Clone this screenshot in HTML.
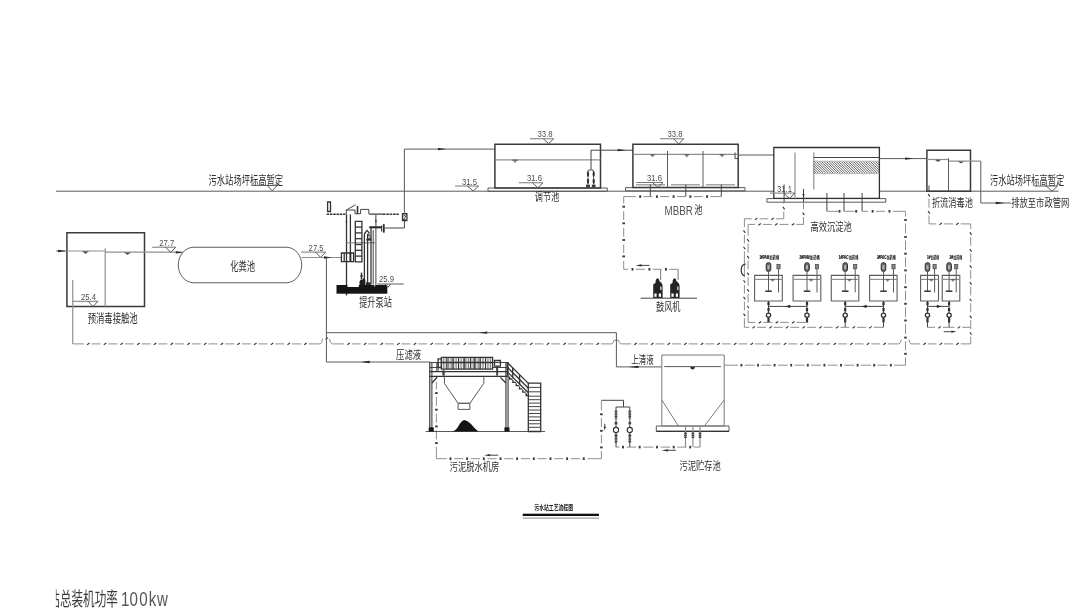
<!DOCTYPE html>
<html lang="zh"><head><meta charset="utf-8"><title>污水站工艺流程图</title>
<style>
html,body{margin:0;padding:0;background:#fff}
body{width:1080px;height:608px;overflow:hidden;font-family:"Liberation Sans","Noto Sans CJK SC",sans-serif}
svg{display:block;filter:blur(0.35px)}
svg text{font-family:"Liberation Sans","Noto Sans CJK SC",sans-serif}
.k,.m,.t,.d,.mk,.p,.q,.u{fill:none}
.u{stroke:#5c5c5c;stroke-width:1.1}
.k2{stroke:#303030;stroke-width:1.3;fill:none}
.e{stroke:#787878;stroke-width:1;fill:none}
.p{stroke:#333;stroke-width:1.3}
.q{stroke:#444;stroke-width:1}
.k{stroke:#3a3a3a;stroke-width:1.5;stroke-linejoin:miter}
.m{stroke:#5a5a5a;stroke-width:1}
.t{stroke:#8f8f8f;stroke-width:1.2}
.d{stroke:#8e8e8e;stroke-width:1}
.mk{stroke:#3a3a3a;stroke-width:1.15}
</style></head>
<body>
<svg width="1080" height="608" viewBox="0 0 1080 608" role="img" aria-label="污水站工艺流程图">
<path class="m" d="M56 191.2L773.5 191.2"/>
<path class="m" d="M879.4 191.2L1058.6 191.2"/>
<path class="k" d="M66.9 232.85L144.5 232.85L144.5 306.6L66.9 306.6Z"/>
<path class="t" d="M56 251L66.9 251"/>
<path fill="#262626" d="M66.6 251L58 249.8L58 252.2Z"/>
<path class="t" d="M66.9 251L105.2 251"/>
<path class="t" d="M105.2 252.2L182.6 252.2"/>
<path class="t" d="M105.2 248.3L105.2 306.6"/>
<path fill="#555" d="M82 251.3L89 251.3L85.5 253.9Z"/>
<path fill="#555" d="M124 252.5L131 252.5L127.5 255.1Z"/>
<path class="t" d="M72.75 280L72.75 344"/>
<path class="e" d="M72.75 301.3L98 301.3"/>
<path class="m" d="M88 301.3L93 306.4L98 301.3"/>
<text x="0" y="0" font-size="9.3" text-anchor="start" fill="#4d4d4d" transform="translate(81 300) scale(0.83 1)">25.4</text>
<text x="0" y="0" font-size="12.48" text-anchor="start" fill="#2e2e2e" transform="translate(87.7 323.25) scale(0.667 1)">预消毒接触池</text>
<path class="e" d="M152.2 247.2L175.8 247.2"/>
<path class="m" d="M165.6 247.2L170.7 252.4L175.8 247.2"/>
<text x="0" y="0" font-size="9.3" text-anchor="start" fill="#4d4d4d" transform="translate(159.2 245.9) scale(0.83 1)">27.7</text>
<path fill="#262626" d="M183.3 252.4L175.8 251.25L175.8 253.55Z"/>
<rect x="178.25" y="247.25" width="123.5" height="35.5" rx="15.5" ry="17.75" fill="none" stroke="#5c5c5c" stroke-width="1"/>
<text x="0" y="0" font-size="12.24" text-anchor="start" fill="#2e2e2e" transform="translate(230.2 271.06) scale(0.678 1)">化粪池</text>
<text x="0" y="0" font-size="12.12" text-anchor="start" fill="#2e2e2e" transform="translate(208.5 185.17) scale(0.685 1)">污水站场坪标高暂定</text>
<path class="m" d="M251.7 185.4L278 185.4"/>
<path class="m" d="M267.3 185.4L272.2 190.8L277.2 185.4"/>
<path class="e" d="M301.25 252.1L325.6 252.1"/>
<path class="m" d="M315.6 252.1L320.6 257.4L325.6 252.1"/>
<text x="0" y="0" font-size="9.3" text-anchor="start" fill="#4d4d4d" transform="translate(308.6 250.8) scale(0.83 1)">27.5</text>
<path class="t" d="M301.75 257.5L341.25 257.5"/>
<path fill="#262626" d="M331.5 257.5L324 256.35L324 258.65Z"/>
<path class="m" d="M326.4 257.5L326.4 362"/>
<path class="p" d="M341.4 253L353.6 253L353.6 261.6L341.4 261.6Z"/>
<path class="p" d="M344.2 253L344.2 261.6"/>
<path d="M350.4 252.4V262" stroke="#2a2a2a" stroke-width="1.9"/>
<path class="p" d="M346.5 214.4L346.5 295.2"/>
<path class="p" d="M350.4 214.4L350.4 253"/>
<path class="q" d="M375.9 214.4L375.9 285"/>
<path class="t" d="M346.5 242.8L375.9 242.8"/>
<path fill="#333" d="M345.6 222.2L347.4 222.2L346.5 218.6Z"/>
<path fill="#333" d="M375 222.2L376.8 222.2L375.9 218.6Z"/>
<path d="M326.6 214.3H345.6" stroke="#383838" stroke-width="1.4" stroke-dasharray="2.6 0.7"/>
<path d="M369 214.1H383" stroke="#383838" stroke-width="1.2"/>
<path d="M383 214.3H399" stroke="#383838" stroke-width="1.4" stroke-dasharray="2.6 0.7"/>
<path class="p" d="M327.6 202L330.5 202L330.5 211.5L327.6 211.5Z"/>
<path class="q" d="M346.3 214L346.3 210L355.6 204.7"/>
<path class="q" d="M346.3 210L355 210L355 213.8L360.6 213.8L360.6 209.4L368.8 209.4L368.8 213.9"/>
<path d="M357.5 206V213.8" stroke="#333" stroke-width="1.6"/>
<path class="p" d="M355.3 221.3L361.9 221.3L361.9 261.9L355.3 261.9Z"/>
<path class="p" d="M355.3 227.1L361.9 227.1"/>
<path class="p" d="M355.3 232.9L361.9 232.9"/>
<path class="p" d="M355.3 238.7L361.9 238.7"/>
<path class="p" d="M355.3 244.5L361.9 244.5"/>
<path class="p" d="M355.3 250.3L361.9 250.3"/>
<path class="p" d="M355.3 256.1L361.9 256.1"/>
<path class="q" d="M404.4 220.6L404.4 228L385 228"/>
<path d="M383.8 224.2V232.6" stroke="#2a2a2a" stroke-width="1.8"/>
<path d="M381.6 225.4V231.4" stroke="#333" stroke-width="1.1"/>
<path d="M369.2 227.3H381.6" stroke="#2a2a2a" stroke-width="2.1"/>
<path class="p" d="M371 228L371 284.5"/>
<path class="q" d="M373.2 230L373.2 284.5"/>
<path class="p" d="M364.4 233.8L364.4 284.5"/>
<path class="p" d="M367.6 233.8L367.6 284.5"/>
<path d="M364.4 234L367 230.4L369.4 233" class="p"/>
<path d="M366.4 240L368.8 232.4L371.4 240ZM367.6 238.2L368.8 234.6L370 238.2Z" fill="#2a2a2a" fill-rule="evenodd"/>
<path class="p" d="M366.4 240L371.4 240"/>
<path d="M359.5 285.6V281.6L360.6 279.8H362.4L363 278.6H364.6L365.4 280.4V285.6Z" fill="#1e1e1e"/>
<path d="M366 285.6V282.4H370.8V285.6Z" fill="#2a2a2a"/>
<path class="k" d="M361.5 272.6L361.5 279.5"/>
<path fill="#262626" d="M361.5 279.4L362.8 275.2L360.2 275.2Z"/>
<path class="p" d="M402.5 213.75L406.9 213.75L406.9 220.6L402.5 220.6Z"/>
<text x="0" y="0" font-size="6.6" text-anchor="start" fill="#222" font-weight="bold" transform="translate(402.9 219.8) scale(0.85 1)">2</text>
<path class="m" d="M404.4 213.75L404.4 149.1L494.9 149.1"/>
<path fill="#262626" d="M446.5 149.1L438 147.95L438 150.25Z"/>
<rect x="336.5" y="285" width="50.8" height="8.7" fill="#141414"/>
<rect x="347.5" y="285" width="11.3" height="2" fill="#fff"/>
<rect x="374.4" y="285" width="0.8" height="1.6" fill="#fff"/>
<path class="p" d="M346.5 293.5L346.5 295.4"/>
<path class="m" d="M377.5 284L403.75 284"/>
<path class="m" d="M385.3 284L388 287.4L390.7 284"/>
<text x="0" y="0" font-size="9.3" text-anchor="start" fill="#4d4d4d" transform="translate(379 282.2) scale(0.83 1)">25.9</text>
<text x="0" y="0" font-size="12" text-anchor="start" fill="#2e2e2e" transform="translate(359.2 307.28) scale(0.68 1)">提升泵站</text>
<path class="m" d="M488 188L607.3 188L607.3 191.3L488 191.3Z"/>
<path class="k" d="M494.9 144.25L600.5 144.25L600.5 187.9L494.9 187.9Z"/>
<path class="t" d="M494.9 159.8L600.5 159.8"/>
<path d="M512.25 160.2H517.75" stroke="#4a4a4a" stroke-width="1" fill="none"/>
<path fill="#7a7a7a" d="M513.24 160.4L516.76 160.4L515 163.2Z"/>
<path class="e" d="M530 138.75L553.75 138.75"/>
<path class="m" d="M543.25 138.75L548.5 143.6L553.75 138.75"/>
<text x="0" y="0" font-size="9.3" text-anchor="start" fill="#4d4d4d" transform="translate(537.5 137.45) scale(0.83 1)">33.8</text>
<path class="e" d="M455 186L478.75 186"/>
<path class="m" d="M467.55 186L473.15 191L478.75 186"/>
<text x="0" y="0" font-size="9.3" text-anchor="start" fill="#4d4d4d" transform="translate(462 184.7) scale(0.83 1)">31.5</text>
<path class="e" d="M518.75 182.75L543 182.75"/>
<path class="m" d="M532.5 182.75L537.75 187.8L543 182.75"/>
<text x="0" y="0" font-size="9.3" text-anchor="start" fill="#4d4d4d" transform="translate(527 181.45) scale(0.83 1)">31.6</text>
<text x="0" y="0" font-size="11.9" text-anchor="start" fill="#2e2e2e" transform="translate(534.8 201.1) scale(0.685 1)">调节池</text>
<path class="q" d="M591 169.4L591 150.2L632.9 150.2"/>
<path fill="#262626" d="M626.2 150.2L617.7 149.05L617.7 151.35Z"/>
<path class="q" d="M588 171.5Q588 169.8 590.8 169.8Q593.7 169.8 593.7 171.5"/>
<path d="M588 170.3Q590.3 174.15 588 178Q585.7 174.15 588 170.3Z" fill="#303030"/>
<path d="M588 177.6Q590.3 181.3 588 185Q585.7 181.3 588 177.6Z" fill="#303030"/>
<rect x="586.1" y="184.6" width="3.8" height="2.8" fill="#3a3a3a"/>
<path d="M593.7 170.3Q596 174.15 593.7 178Q591.4 174.15 593.7 170.3Z" fill="#303030"/>
<path d="M593.7 177.6Q596 181.3 593.7 185Q591.4 181.3 593.7 177.6Z" fill="#303030"/>
<rect x="591.8" y="184.6" width="3.8" height="2.8" fill="#3a3a3a"/>
<path class="m" d="M625.6 187.6L745 187.6L745 190.9L625.6 190.9Z"/>
<path class="k" d="M632.9 144.2L738.2 144.2L738.2 187.5L632.9 187.5Z"/>
<path class="t" d="M632.9 154.4L738.2 154.4"/>
<path class="m" d="M667.5 151L667.5 187.5"/>
<path class="m" d="M703 151L703 187.5"/>
<path d="M650.2 154.9H654.8" stroke="#4a4a4a" stroke-width="1" fill="none"/>
<path fill="#7a7a7a" d="M651.03 155.1L653.97 155.1L652.5 157.7Z"/>
<path d="M684.5 154.9H689.1" stroke="#4a4a4a" stroke-width="1" fill="none"/>
<path fill="#7a7a7a" d="M685.33 155.1L688.27 155.1L686.8 157.7Z"/>
<path d="M719.7 154.9H724.3" stroke="#4a4a4a" stroke-width="1" fill="none"/>
<path fill="#7a7a7a" d="M720.53 155.1L723.47 155.1L722 157.7Z"/>
<path class="t" d="M636 184.8L665 184.8"/>
<path class="t" d="M671 184.8L700 184.8"/>
<path class="t" d="M706 184.8L735 184.8"/>
<path class="e" d="M660 138.75L683.75 138.75"/>
<path class="m" d="M673.55 138.75L678.65 144L683.75 138.75"/>
<text x="0" y="0" font-size="9.3" text-anchor="start" fill="#4d4d4d" transform="translate(667.5 137.45) scale(0.83 1)">33.8</text>
<path class="e" d="M636.25 182.5L663 182.5"/>
<path class="m" d="M652.5 182.5L657.75 187.4L663 182.5"/>
<text x="0" y="0" font-size="9.3" text-anchor="start" fill="#4d4d4d" transform="translate(647 181.2) scale(0.83 1)">31.6</text>
<path class="q" d="M735 152.5L735 158.6L738.2 158.6"/>
<path class="m" d="M738.2 155L774 155"/>
<text x="0" y="0" font-size="12.1" text-anchor="start" fill="#555" transform="translate(664.6 215) scale(0.81 1)">MBBR</text>
<text x="0" y="0" font-size="11.78" text-anchor="start" fill="#2e2e2e" transform="translate(694.2 214.41) scale(0.705 1)">池</text>
<path class="q" d="M650.3 184.6L650.3 196.6"/>
<path class="q" d="M685.8 184.6L685.8 196.6"/>
<path class="q" d="M721.3 184.6L721.3 196.6"/>
<path class="d" d="M623.7 196.6L635.7 196.6"/>
<path class="d" d="M643.5 196.6L652.4 196.6"/>
<path class="d" d="M660.2 196.6L669.1 196.6"/>
<path class="d" d="M676.9 196.6L685.9 196.6"/>
<path class="d" d="M693.7 196.6L702.6 196.6"/>
<path class="d" d="M710.4 196.6L721.3 196.6"/>
<rect x="639.25" y="195.3" width="1.9" height="2.6" fill="#3a3a3a"/>
<rect x="655.95" y="195.3" width="1.9" height="2.6" fill="#3a3a3a"/>
<rect x="672.65" y="195.3" width="1.9" height="2.6" fill="#3a3a3a"/>
<rect x="689.45" y="195.3" width="1.9" height="2.6" fill="#3a3a3a"/>
<rect x="706.15" y="195.3" width="1.9" height="2.6" fill="#3a3a3a"/>
<path class="d" d="M623.7 196.6L623.7 203.4"/>
<path class="d" d="M623.7 211.2L623.7 220"/>
<path class="d" d="M623.7 227.8L623.7 236.7"/>
<path class="d" d="M623.7 244.5L623.7 253.1"/>
<path class="d" d="M623.7 260.9L623.7 269.3"/>
<rect x="622.4" y="205.75" width="2.6" height="1.9" fill="#3a3a3a"/>
<rect x="622.4" y="222.35" width="2.6" height="1.9" fill="#3a3a3a"/>
<rect x="622.4" y="239.05" width="2.6" height="1.9" fill="#3a3a3a"/>
<rect x="622.4" y="255.45" width="2.6" height="1.9" fill="#3a3a3a"/>
<path class="d" d="M623.7 269.3L628 269.3"/>
<path class="d" d="M635.8 269.3L644.9 269.3"/>
<path class="d" d="M652.7 269.3L661.5 269.3"/>
<path class="d" d="M669.3 269.3L678.1 269.3"/>
<rect x="631.55" y="268" width="1.9" height="2.6" fill="#3a3a3a"/>
<rect x="648.45" y="268" width="1.9" height="2.6" fill="#3a3a3a"/>
<rect x="665.05" y="268" width="1.9" height="2.6" fill="#3a3a3a"/>
<path fill="#262626" d="M635.6 265.4L641.6 266.5L641.6 264.3Z"/>
<path class="q" d="M641 265.4L649.4 265.4"/>
<path class="t" d="M660.6 269.3L660.6 280"/>
<path class="t" d="M678.1 269.3L678.1 280"/>
<path d="M653.2 298V284.5L655.6 282.8V280.8Q656.4 278 657.6 278.3Q659.2 278.5 659.4 281L661.8 283.2L662.6 285.5V298Z" fill="#242424"/>
<rect x="654.4" y="293.5" width="2.2" height="3.3" fill="#fff"/>
<rect x="658.8" y="293.5" width="2.2" height="3.3" fill="#fff"/>
<rect x="660" y="286.5" width="1.6" height="3.5" fill="#bbb"/>
<path d="M670.2 298V284.5L672.6 282.8V280.8Q673.4 278 674.6 278.3Q676.2 278.5 676.4 281L678.8 283.2L679.6 285.5V298Z" fill="#242424"/>
<rect x="671.4" y="293.5" width="2.2" height="3.3" fill="#fff"/>
<rect x="675.8" y="293.5" width="2.2" height="3.3" fill="#fff"/>
<rect x="677" y="286.5" width="1.6" height="3.5" fill="#bbb"/>
<path class="q" d="M640.6 298.2L697 298.2"/>
<text x="0" y="0" font-size="11.54" text-anchor="start" fill="#2e2e2e" transform="translate(656 310.72) scale(0.707 1)">鼓风机</text>
<path class="m" d="M766.9 198.6L885.8 198.6L885.8 202.2L766.9 202.2Z"/>
<path class="k2" d="M773.8 147.5L879.4 147.5L879.4 198.4L773.8 198.4Z"/>
<path class="t" d="M795 152.5L795 197"/>
<path class="t" d="M813.8 152.5L813.8 189.4"/>
<path class="q" d="M813.8 157.5L879.4 157.5"/>
<clipPath id="hz"><rect x="813.8" y="161.2" width="65.6" height="12.4"/></clipPath>
<path clip-path="url(#hz)" d="M801.6 161.2l12.4 12.4M804.05 161.2l12.4 12.4M806.5 161.2l12.4 12.4M808.95 161.2l12.4 12.4M811.4 161.2l12.4 12.4M813.85 161.2l12.4 12.4M816.3 161.2l12.4 12.4M818.75 161.2l12.4 12.4M821.2 161.2l12.4 12.4M823.65 161.2l12.4 12.4M826.1 161.2l12.4 12.4M828.55 161.2l12.4 12.4M831 161.2l12.4 12.4M833.45 161.2l12.4 12.4M835.9 161.2l12.4 12.4M838.35 161.2l12.4 12.4M840.8 161.2l12.4 12.4M843.25 161.2l12.4 12.4M845.7 161.2l12.4 12.4M848.15 161.2l12.4 12.4M850.6 161.2l12.4 12.4M853.05 161.2l12.4 12.4M855.5 161.2l12.4 12.4M857.95 161.2l12.4 12.4M860.4 161.2l12.4 12.4M862.85 161.2l12.4 12.4M865.3 161.2l12.4 12.4M867.75 161.2l12.4 12.4M870.2 161.2l12.4 12.4M872.65 161.2l12.4 12.4M875.1 161.2l12.4 12.4M877.55 161.2l12.4 12.4M880 161.2l12.4 12.4" stroke="#484848" stroke-width="0.85" fill="none"/>
<path d="M813.8 161.2H879.4M813.8 173.6H879.4" stroke="#a8a8a8" stroke-width="0.8" fill="none"/>
<path class="m" d="M879.4 158.6L926.8 158.6"/>
<path fill="#262626" d="M913.8 158.6L905.1 157.45L905.1 159.75Z"/>
<path class="t" d="M770 193.1L795 193.1"/>
<path class="m" d="M783.7 193.1L789.4 198.3L795 193.1"/>
<text x="0" y="0" font-size="9.3" text-anchor="start" fill="#4d4d4d" transform="translate(777 191.8) scale(0.83 1)">31.1</text>
<path class="q" d="M784.1 184.4L784.1 202"/>
<path class="q" d="M803.5 188.8L803.5 202"/>
<path fill="#262626" d="M803.5 197.6L804.6 194L802.4 194Z"/>
<text x="0" y="0" font-size="11.9" text-anchor="start" fill="#2e2e2e" transform="translate(810.4 231) scale(0.694 1)">高效沉淀池</text>
<path class="q" d="M826.9 193L826.9 211.3"/>
<path class="q" d="M844 193L844 211.3"/>
<path class="q" d="M862.1 193L862.1 211.3"/>
<path class="d" d="M826.9 211.3L838 211.3"/>
<rect x="838.55" y="210" width="1.9" height="2.6" fill="#3a3a3a"/>
<path class="d" d="M844 211.3L854.6 211.3"/>
<rect x="855.25" y="210" width="1.9" height="2.6" fill="#3a3a3a"/>
<path class="d" d="M862.1 211.3L868.1 211.3"/>
<path class="d" d="M875.9 211.3L885 211.3"/>
<path class="d" d="M892.8 211.3L905.4 211.3"/>
<rect x="871.65" y="210" width="1.9" height="2.6" fill="#3a3a3a"/>
<rect x="888.55" y="210" width="1.9" height="2.6" fill="#3a3a3a"/>
<path class="d" d="M905.5 211.3L905.5 216.4"/>
<path class="d" d="M905.5 223.6L905.5 233.3"/>
<path class="d" d="M905.5 240.5L905.5 250.1"/>
<path class="d" d="M905.5 257.3L905.5 266.8"/>
<path class="d" d="M905.5 274L905.5 283.6"/>
<path class="d" d="M905.5 290.8L905.5 300.2"/>
<path class="d" d="M905.5 307.4L905.5 316.9"/>
<path class="d" d="M905.5 324.1L905.5 334"/>
<path class="d" d="M905.5 341.2L905.5 350.2"/>
<path class="d" d="M905.5 357.4L905.5 365.2"/>
<rect x="904.2" y="219.05" width="2.6" height="1.9" fill="#3a3a3a"/>
<rect x="904.2" y="235.95" width="2.6" height="1.9" fill="#3a3a3a"/>
<rect x="904.2" y="252.75" width="2.6" height="1.9" fill="#3a3a3a"/>
<rect x="904.2" y="269.45" width="2.6" height="1.9" fill="#3a3a3a"/>
<rect x="904.2" y="286.25" width="2.6" height="1.9" fill="#3a3a3a"/>
<rect x="904.2" y="302.85" width="2.6" height="1.9" fill="#3a3a3a"/>
<rect x="904.2" y="319.55" width="2.6" height="1.9" fill="#3a3a3a"/>
<rect x="904.2" y="336.65" width="2.6" height="1.9" fill="#3a3a3a"/>
<rect x="904.2" y="352.85" width="2.6" height="1.9" fill="#3a3a3a"/>
<path class="d" d="M783.75 202.2L783.75 203.7"/>
<path class="d" d="M783.75 211.5L783.75 218.8"/>
<path class="mk" d="M782.85 206.95L784.65 209.45"/>
<path class="d" d="M744.4 218.8L751.8 218.8"/>
<path class="d" d="M759.6 218.8L768.1 218.8"/>
<path class="d" d="M775.9 218.8L783.75 218.8"/>
<path class="mk" d="M755.05 219.7L757.55 217.9"/>
<path class="mk" d="M771.35 219.7L773.85 217.9"/>
<path class="d" d="M803.5 202.2L803.5 209.3"/>
<path class="d" d="M803.5 217.1L803.5 224.4"/>
<path class="mk" d="M802.6 212.55L804.4 215.05"/>
<path class="d" d="M748.1 224.4L755.1 224.4"/>
<path class="d" d="M762.9 224.4L771.8 224.4"/>
<path class="d" d="M779.6 224.4L788.5 224.4"/>
<path class="d" d="M796.3 224.4L803.5 224.4"/>
<path class="mk" d="M758.35 225.3L760.85 223.5"/>
<path class="mk" d="M775.05 225.3L777.55 223.5"/>
<path class="mk" d="M791.75 225.3L794.25 223.5"/>
<path class="d" d="M744.4 218.8L744.4 227.1"/>
<path class="d" d="M744.4 234.9L744.4 243.5"/>
<path class="d" d="M744.4 251.3L744.4 277"/>
<path class="d" d="M744.4 284.8L744.4 293.7"/>
<path class="d" d="M744.4 301.5L744.4 310.3"/>
<path class="d" d="M744.4 318.1L744.4 327.3"/>
<path class="mk" d="M743.5 230.35L745.3 232.85"/>
<path class="mk" d="M743.5 246.75L745.3 249.25"/>
<path class="mk" d="M743.5 280.25L745.3 282.75"/>
<path class="mk" d="M743.5 296.95L745.3 299.45"/>
<path class="mk" d="M743.5 313.55L745.3 316.05"/>
<path class="d" d="M748.1 224.4L748.1 235.8"/>
<path class="d" d="M748.1 243.6L748.1 252.7"/>
<path class="d" d="M748.1 260.5L748.1 269.3"/>
<path class="d" d="M748.1 277.1L748.1 285.9"/>
<path class="d" d="M748.1 293.7L748.1 302.5"/>
<path class="d" d="M748.1 310.3L748.1 322.4"/>
<path class="mk" d="M747.2 239.05L749 241.55"/>
<path class="mk" d="M747.2 255.95L749 258.45"/>
<path class="mk" d="M747.2 272.55L749 275.05"/>
<path class="mk" d="M747.2 289.15L749 291.65"/>
<path class="mk" d="M747.2 305.75L749 308.25"/>
<path d="M744.6 276Q741 274.5 741.2 269.5Q741.4 264.6 745.6 264.2" fill="none" stroke="#3c3c3c" stroke-width="1.25"/>
<path class="k" d="M926.9 150.3L970.5 150.3L970.5 191.2L926.9 191.2Z"/>
<path class="t" d="M926.9 159.5L948.5 159.5"/>
<path class="t" d="M948.5 161.2L980.8 161.2"/>
<path class="m" d="M948.5 158.3L948.5 191.2"/>
<path fill="#555" d="M934.8 159.8L941.2 159.8L938 161.9Z"/>
<path fill="#555" d="M957.8 161.5L964.2 161.5L961 163.6Z"/>
<path class="m" d="M980.8 161.2L980.8 203L1011 203"/>
<path fill="#262626" d="M1004.5 203L995.7 201.85L995.7 204.15Z"/>
<text x="0" y="0" font-size="11.33" text-anchor="start" fill="#2e2e2e" transform="translate(1011.2 207.36) scale(0.733 1)">排放至市政管网</text>
<text x="0" y="0" font-size="11.33" text-anchor="start" fill="#2e2e2e" transform="translate(931.9 207.36) scale(0.725 1)">折流消毒池</text>
<text x="0" y="0" font-size="12" text-anchor="start" fill="#2e2e2e" transform="translate(990 185.48) scale(0.688 1)">污水站场坪标高暂定</text>
<path class="m" d="M1034.3 186L1057.6 186"/>
<path class="m" d="M1046.2 186L1052 191.2L1057.6 186"/>
<path class="q" d="M929 185.5L929 191"/>
<path class="d" d="M929 198.6L929 207.8"/>
<path class="d" d="M929 215.6L929 223.9"/>
<path class="mk" d="M928.1 194.05L929.9 196.55"/>
<path class="mk" d="M928.1 211.05L929.9 213.55"/>
<path class="d" d="M929 223.9L936.2 223.9"/>
<path class="d" d="M944 223.9L952.9 223.9"/>
<path class="d" d="M960.7 223.9L970.7 223.9"/>
<path class="mk" d="M939.45 224.8L941.95 223"/>
<path class="mk" d="M956.15 224.8L958.65 223"/>
<path class="d" d="M970.7 223.9L970.7 229.1"/>
<path class="d" d="M970.7 236.9L970.7 245.8"/>
<path class="d" d="M970.7 253.6L970.7 262.2"/>
<path class="d" d="M970.7 270L970.7 278.8"/>
<path class="d" d="M970.7 286.6L970.7 295.5"/>
<path class="d" d="M970.7 303.3L970.7 312.3"/>
<path class="d" d="M970.7 320.1L970.7 329"/>
<path class="d" d="M970.7 336.8L970.7 343.8"/>
<path class="mk" d="M969.8 232.35L971.6 234.85"/>
<path class="mk" d="M969.8 249.05L971.6 251.55"/>
<path class="mk" d="M969.8 265.45L971.6 267.95"/>
<path class="mk" d="M969.8 282.05L971.6 284.55"/>
<path class="mk" d="M969.8 298.75L971.6 301.25"/>
<path class="mk" d="M969.8 315.55L971.6 318.05"/>
<path class="mk" d="M969.8 332.25L971.6 334.75"/>
<path class="u" d="M754.6 275.4L782.3 275.4L782.3 301L754.6 301Z"/>
<path class="t" d="M754.6 279.4L782.3 279.4"/>
<path d="M770.8 279.8H774.4" stroke="#4a4a4a" stroke-width="1" fill="none"/>
<path fill="#7a7a7a" d="M771.45 280L773.75 280L772.6 281.9Z"/>
<rect x="766.2" y="262.7" width="4.6" height="8.7" rx="2" ry="2.2" fill="#6a6a6a" stroke="#2e2e2e" stroke-width="1"/>
<rect x="767.5" y="265.2" width="2" height="4" fill="#b5b5b5"/>
<path class="m" d="M768.5 271.4L768.5 291.2"/>
<path d="M765.2 291.2H771.8" stroke="#333" stroke-width="1.5"/>
<rect x="776.9" y="264.4" width="3.2" height="4.4" fill="#888" stroke="#444" stroke-width="0.7"/>
<path class="m" d="M778.5 268.8L778.5 292.4"/>
<path class="q" d="M768.5 301L768.5 322.4"/>
<path d="M768.5 302V305.2M768.5 308V311.3M768.5 318V322.4" stroke="#303030" stroke-width="2.2"/>
<circle cx="768.5" cy="315.3" r="2.1" fill="#fff" stroke="#303030" stroke-width="1.3"/>
<text x="759.4" y="258.7" font-size="4.5" font-weight="bold" fill="#161616" stroke="#161616" stroke-width="0.22" textLength="9.86" lengthAdjust="spacingAndGlyphs">1#PAM</text>
<text x="0" y="0" font-size="4.39" font-weight="bold" text-anchor="start" fill="#161616" transform="translate(769.56 258.76) scale(0.727 1)">加药桶</text>
<path class="u" d="M793.1 275.4L820.8 275.4L820.8 301L793.1 301Z"/>
<path class="t" d="M793.1 279.4L820.8 279.4"/>
<path d="M809.3 279.8H812.9" stroke="#4a4a4a" stroke-width="1" fill="none"/>
<path fill="#7a7a7a" d="M809.95 280L812.25 280L811.1 281.9Z"/>
<rect x="804.7" y="262.7" width="4.6" height="8.7" rx="2" ry="2.2" fill="#6a6a6a" stroke="#2e2e2e" stroke-width="1"/>
<rect x="806" y="265.2" width="2" height="4" fill="#b5b5b5"/>
<path class="m" d="M807 271.4L807 291.2"/>
<path d="M803.7 291.2H810.3" stroke="#333" stroke-width="1.5"/>
<rect x="815.4" y="264.4" width="3.2" height="4.4" fill="#888" stroke="#444" stroke-width="0.7"/>
<path class="m" d="M817 268.8L817 292.4"/>
<path class="q" d="M807 301L807 322.4"/>
<path d="M807 302V305.2M807 308V311.3M807 318V322.4" stroke="#303030" stroke-width="2.2"/>
<circle cx="807" cy="315.3" r="2.1" fill="#fff" stroke="#303030" stroke-width="1.3"/>
<text x="799.4" y="258.7" font-size="4.5" font-weight="bold" fill="#161616" stroke="#161616" stroke-width="0.22" textLength="10.16" lengthAdjust="spacingAndGlyphs">2#PAM</text>
<text x="0" y="0" font-size="4.39" font-weight="bold" text-anchor="start" fill="#161616" transform="translate(809.86 258.76) scale(0.749 1)">加药桶</text>
<path class="u" d="M831.3 275.4L858.8 275.4L858.8 301L831.3 301Z"/>
<path class="t" d="M831.3 279.4L858.8 279.4"/>
<path d="M847.5 279.8H851.1" stroke="#4a4a4a" stroke-width="1" fill="none"/>
<path fill="#7a7a7a" d="M848.15 280L850.45 280L849.3 281.9Z"/>
<rect x="842.9" y="262.7" width="4.6" height="8.7" rx="2" ry="2.2" fill="#6a6a6a" stroke="#2e2e2e" stroke-width="1"/>
<rect x="844.2" y="265.2" width="2" height="4" fill="#b5b5b5"/>
<path class="m" d="M845.2 271.4L845.2 291.2"/>
<path d="M841.9 291.2H848.5" stroke="#333" stroke-width="1.5"/>
<rect x="853.6" y="264.4" width="3.2" height="4.4" fill="#888" stroke="#444" stroke-width="0.7"/>
<path class="m" d="M855.2 268.8L855.2 292.4"/>
<path class="q" d="M845.2 301L845.2 322.4"/>
<path d="M845.2 302V305.2M845.2 308V311.3M845.2 318V322.4" stroke="#303030" stroke-width="2.2"/>
<circle cx="845.2" cy="315.3" r="2.1" fill="#fff" stroke="#303030" stroke-width="1.3"/>
<text x="838.8" y="258.7" font-size="4.5" font-weight="bold" fill="#161616" stroke="#161616" stroke-width="0.22" textLength="9.81" lengthAdjust="spacingAndGlyphs">1#PAC</text>
<text x="0" y="0" font-size="4.39" font-weight="bold" text-anchor="start" fill="#161616" transform="translate(848.91 258.76) scale(0.721 1)">加药桶</text>
<path class="u" d="M869.6 275.4L897.1 275.4L897.1 301L869.6 301Z"/>
<path class="t" d="M869.6 279.4L897.1 279.4"/>
<path d="M885.8 279.8H889.4" stroke="#4a4a4a" stroke-width="1" fill="none"/>
<path fill="#7a7a7a" d="M886.45 280L888.75 280L887.6 281.9Z"/>
<rect x="881.2" y="262.7" width="4.6" height="8.7" rx="2" ry="2.2" fill="#6a6a6a" stroke="#2e2e2e" stroke-width="1"/>
<rect x="882.5" y="265.2" width="2" height="4" fill="#b5b5b5"/>
<path class="m" d="M883.5 271.4L883.5 291.2"/>
<path d="M880.2 291.2H886.8" stroke="#333" stroke-width="1.5"/>
<rect x="891.9" y="264.4" width="3.2" height="4.4" fill="#888" stroke="#444" stroke-width="0.7"/>
<path class="m" d="M893.5 268.8L893.5 292.4"/>
<path class="q" d="M883.5 301L883.5 322.4"/>
<path d="M883.5 302V305.2M883.5 308V311.3M883.5 318V322.4" stroke="#303030" stroke-width="2.2"/>
<circle cx="883.5" cy="315.3" r="2.1" fill="#fff" stroke="#303030" stroke-width="1.3"/>
<text x="876.9" y="258.7" font-size="4.5" font-weight="bold" fill="#161616" stroke="#161616" stroke-width="0.22" textLength="9.55" lengthAdjust="spacingAndGlyphs">2#PAC</text>
<text x="0" y="0" font-size="4.39" font-weight="bold" text-anchor="start" fill="#161616" transform="translate(886.75 258.76) scale(0.699 1)">加药桶</text>
<path class="u" d="M920.6 275.4L938.5 275.4L938.5 301L920.6 301Z"/>
<path class="t" d="M920.6 279.4L938.5 279.4"/>
<path d="M929.5 279.8H933.1" stroke="#4a4a4a" stroke-width="1" fill="none"/>
<path fill="#7a7a7a" d="M930.15 280L932.45 280L931.3 281.9Z"/>
<rect x="925.2" y="262.7" width="4.6" height="8.7" rx="2" ry="2.2" fill="#6a6a6a" stroke="#2e2e2e" stroke-width="1"/>
<rect x="926.5" y="265.2" width="2" height="4" fill="#b5b5b5"/>
<path class="m" d="M927.5 271.4L927.5 291.2"/>
<path d="M924.2 291.2H930.8" stroke="#333" stroke-width="1.5"/>
<rect x="933" y="264.4" width="3.2" height="4.4" fill="#888" stroke="#444" stroke-width="0.7"/>
<path class="m" d="M934.6 268.8L934.6 292.4"/>
<path class="q" d="M927.5 301L927.5 322.4"/>
<path d="M927.5 302V305.2M927.5 308V311.3M927.5 318V322.4" stroke="#303030" stroke-width="2.2"/>
<circle cx="927.5" cy="315.3" r="2.1" fill="#fff" stroke="#303030" stroke-width="1.3"/>
<text x="926.9" y="258.7" font-size="4.5" font-weight="bold" fill="#161616" stroke="#161616" stroke-width="0.22" textLength="3.48" lengthAdjust="spacingAndGlyphs">1#</text>
<text x="0" y="0" font-size="4.39" font-weight="bold" text-anchor="start" fill="#161616" transform="translate(930.68 258.76) scale(0.639 1)">加药桶</text>
<path class="u" d="M942.2 275.4L959.8 275.4L959.8 301L942.2 301Z"/>
<path class="t" d="M942.2 279.4L959.8 279.4"/>
<path d="M951.1 279.8H954.7" stroke="#4a4a4a" stroke-width="1" fill="none"/>
<path fill="#7a7a7a" d="M951.75 280L954.05 280L952.9 281.9Z"/>
<rect x="946.8" y="262.7" width="4.6" height="8.7" rx="2" ry="2.2" fill="#6a6a6a" stroke="#2e2e2e" stroke-width="1"/>
<rect x="948.1" y="265.2" width="2" height="4" fill="#b5b5b5"/>
<path class="m" d="M949.1 271.4L949.1 291.2"/>
<path d="M945.8 291.2H952.4" stroke="#333" stroke-width="1.5"/>
<rect x="954.6" y="264.4" width="3.2" height="4.4" fill="#888" stroke="#444" stroke-width="0.7"/>
<path class="m" d="M956.2 268.8L956.2 292.4"/>
<path class="q" d="M949.1 301L949.1 322.4"/>
<path d="M949.1 302V305.2M949.1 308V311.3M949.1 318V322.4" stroke="#303030" stroke-width="2.2"/>
<circle cx="949.1" cy="315.3" r="2.1" fill="#fff" stroke="#303030" stroke-width="1.3"/>
<text x="949.4" y="258.7" font-size="4.5" font-weight="bold" fill="#161616" stroke="#161616" stroke-width="0.22" textLength="3.66" lengthAdjust="spacingAndGlyphs">2#</text>
<text x="0" y="0" font-size="4.39" font-weight="bold" text-anchor="start" fill="#161616" transform="translate(953.36 258.76) scale(0.672 1)">加药桶</text>
<path class="q" d="M768.5 306.4L807 306.4"/>
<path fill="#262626" d="M785.4 306.4L790.2 308L790.2 304.8Z"/>
<path class="q" d="M845.2 306.4L883.5 306.4"/>
<path fill="#262626" d="M861.8 306.4L866.6 308L866.6 304.8Z"/>
<path class="q" d="M927.5 306.4L949.1 306.4"/>
<path fill="#262626" d="M941.6 306.4L936.8 304.8L936.8 308Z"/>
<path class="d" d="M748.1 322.4L755.5 322.4"/>
<path class="d" d="M763.3 322.4L772.4 322.4"/>
<path class="d" d="M780.2 322.4L788.7 322.4"/>
<path class="d" d="M796.5 322.4L807 322.4"/>
<path class="mk" d="M758.75 323.3L761.25 321.5"/>
<path class="mk" d="M775.65 323.3L778.15 321.5"/>
<path class="mk" d="M791.95 323.3L794.45 321.5"/>
<path class="q" d="M845.2 322.4L845.2 327.3"/>
<path class="q" d="M883.5 322.4L883.5 327.3"/>
<path class="q" d="M927.5 322.4L927.5 327.3"/>
<path class="q" d="M949.1 322.4L949.1 327.3"/>
<path class="d" d="M744.4 327.3L749.3 327.3"/>
<path class="d" d="M757.1 327.3L766 327.3"/>
<path class="d" d="M773.8 327.3L782.7 327.3"/>
<path class="d" d="M790.5 327.3L799.3 327.3"/>
<path class="d" d="M807.1 327.3L816 327.3"/>
<path class="d" d="M823.8 327.3L832.7 327.3"/>
<path class="d" d="M840.5 327.3L849.3 327.3"/>
<path class="d" d="M857.1 327.3L866 327.3"/>
<path class="d" d="M873.8 327.3L883.5 327.3"/>
<path class="mk" d="M752.55 328.2L755.05 326.4"/>
<path class="mk" d="M769.25 328.2L771.75 326.4"/>
<path class="mk" d="M785.95 328.2L788.45 326.4"/>
<path class="mk" d="M802.55 328.2L805.05 326.4"/>
<path class="mk" d="M819.25 328.2L821.75 326.4"/>
<path class="mk" d="M835.95 328.2L838.45 326.4"/>
<path class="mk" d="M852.55 328.2L855.05 326.4"/>
<path class="mk" d="M869.25 328.2L871.75 326.4"/>
<path class="d" d="M927.5 327.3L935.1 327.3"/>
<path class="d" d="M942.9 327.3L954.5 327.3"/>
<path class="d" d="M962.3 327.3L970.7 327.3"/>
<path class="mk" d="M938.35 328.2L940.85 326.4"/>
<path class="mk" d="M957.75 328.2L960.25 326.4"/>
<path fill="#262626" d="M956.3 331.7L951.3 330.6L951.3 332.8Z"/>
<path class="q" d="M943.8 331.7L951.5 331.7"/>
<path class="d" d="M72.75 343.9L83.8 343.9"/>
<path class="d" d="M91.6 343.9L100.5 343.9"/>
<path class="d" d="M108.3 343.9L117.2 343.9"/>
<path class="d" d="M125 343.9L133.9 343.9"/>
<path class="d" d="M141.7 343.9L150.6 343.9"/>
<path class="d" d="M158.4 343.9L167.3 343.9"/>
<path class="d" d="M175.1 343.9L184 343.9"/>
<path class="d" d="M191.8 343.9L200.7 343.9"/>
<path class="d" d="M208.5 343.9L217.4 343.9"/>
<path class="d" d="M225.2 343.9L234.1 343.9"/>
<path class="d" d="M241.9 343.9L250.8 343.9"/>
<path class="d" d="M258.6 343.9L267.5 343.9"/>
<path class="d" d="M275.3 343.9L284.2 343.9"/>
<path class="d" d="M292 343.9L300.9 343.9"/>
<path class="d" d="M308.7 343.9L320.2 343.9"/>
<path class="mk" d="M87.05 344.8L89.55 343"/>
<path class="mk" d="M103.75 344.8L106.25 343"/>
<path class="mk" d="M120.45 344.8L122.95 343"/>
<path class="mk" d="M137.15 344.8L139.65 343"/>
<path class="mk" d="M153.85 344.8L156.35 343"/>
<path class="mk" d="M170.55 344.8L173.05 343"/>
<path class="mk" d="M187.25 344.8L189.75 343"/>
<path class="mk" d="M203.95 344.8L206.45 343"/>
<path class="mk" d="M220.65 344.8L223.15 343"/>
<path class="mk" d="M237.35 344.8L239.85 343"/>
<path class="mk" d="M254.05 344.8L256.55 343"/>
<path class="mk" d="M270.75 344.8L273.25 343"/>
<path class="mk" d="M287.45 344.8L289.95 343"/>
<path class="mk" d="M304.15 344.8L306.65 343"/>
<path class="d" d="M320.2 343.9Q321.6 343.9 322.6 338.6M329.3 338.8Q330.4 343.9 332.6 343.9"/>
<path class="mk" d="M325.45 339.4L327.95 337.6"/>
<path class="d" d="M332.6 343.9L344 343.9"/>
<path class="d" d="M351.8 343.9L360.62 343.9"/>
<path class="d" d="M368.42 343.9L377.24 343.9"/>
<path class="d" d="M385.04 343.9L393.86 343.9"/>
<path class="d" d="M401.66 343.9L410.48 343.9"/>
<path class="d" d="M418.28 343.9L427.1 343.9"/>
<path class="d" d="M434.9 343.9L443.72 343.9"/>
<path class="d" d="M451.52 343.9L460.34 343.9"/>
<path class="d" d="M468.14 343.9L476.96 343.9"/>
<path class="d" d="M484.76 343.9L493.58 343.9"/>
<path class="d" d="M501.38 343.9L510.2 343.9"/>
<path class="d" d="M518 343.9L526.82 343.9"/>
<path class="d" d="M534.62 343.9L543.44 343.9"/>
<path class="d" d="M551.24 343.9L560.06 343.9"/>
<path class="d" d="M567.86 343.9L576.68 343.9"/>
<path class="d" d="M584.48 343.9L593.3 343.9"/>
<path class="d" d="M601.1 343.9L611.9 343.9"/>
<path class="mk" d="M347.25 344.8L349.75 343"/>
<path class="mk" d="M363.87 344.8L366.37 343"/>
<path class="mk" d="M380.49 344.8L382.99 343"/>
<path class="mk" d="M397.11 344.8L399.61 343"/>
<path class="mk" d="M413.73 344.8L416.23 343"/>
<path class="mk" d="M430.35 344.8L432.85 343"/>
<path class="mk" d="M446.97 344.8L449.47 343"/>
<path class="mk" d="M463.59 344.8L466.09 343"/>
<path class="mk" d="M480.21 344.8L482.71 343"/>
<path class="mk" d="M496.83 344.8L499.33 343"/>
<path class="mk" d="M513.45 344.8L515.95 343"/>
<path class="mk" d="M530.07 344.8L532.57 343"/>
<path class="mk" d="M546.69 344.8L549.19 343"/>
<path class="mk" d="M563.31 344.8L565.81 343"/>
<path class="mk" d="M579.93 344.8L582.43 343"/>
<path class="mk" d="M596.55 344.8L599.05 343"/>
<path class="d" d="M611.9 343.9Q613.1 343.9 613.9 340.3H618.5Q619.4 343.9 620.9 343.9"/>
<path class="d" d="M620.9 343.9L631.1 343.9"/>
<path class="d" d="M638.9 343.9L647.7 343.9"/>
<path class="d" d="M655.5 343.9L664.3 343.9"/>
<path class="d" d="M672.1 343.9L680.9 343.9"/>
<path class="d" d="M688.7 343.9L697.5 343.9"/>
<path class="d" d="M705.3 343.9L714.1 343.9"/>
<path class="d" d="M721.9 343.9L730.7 343.9"/>
<path class="d" d="M738.5 343.9L747.3 343.9"/>
<path class="d" d="M755.1 343.9L763.9 343.9"/>
<path class="d" d="M771.7 343.9L780.5 343.9"/>
<path class="d" d="M788.3 343.9L797.1 343.9"/>
<path class="d" d="M804.9 343.9L813.7 343.9"/>
<path class="d" d="M821.5 343.9L830.3 343.9"/>
<path class="d" d="M838.1 343.9L846.9 343.9"/>
<path class="d" d="M854.7 343.9L863.5 343.9"/>
<path class="d" d="M871.3 343.9L880.1 343.9"/>
<path class="d" d="M887.9 343.9L899 343.9"/>
<path class="mk" d="M634.35 344.8L636.85 343"/>
<path class="mk" d="M650.95 344.8L653.45 343"/>
<path class="mk" d="M667.55 344.8L670.05 343"/>
<path class="mk" d="M684.15 344.8L686.65 343"/>
<path class="mk" d="M700.75 344.8L703.25 343"/>
<path class="mk" d="M717.35 344.8L719.85 343"/>
<path class="mk" d="M733.95 344.8L736.45 343"/>
<path class="mk" d="M750.55 344.8L753.05 343"/>
<path class="mk" d="M767.15 344.8L769.65 343"/>
<path class="mk" d="M783.75 344.8L786.25 343"/>
<path class="mk" d="M800.35 344.8L802.85 343"/>
<path class="mk" d="M816.95 344.8L819.45 343"/>
<path class="mk" d="M833.55 344.8L836.05 343"/>
<path class="mk" d="M850.15 344.8L852.65 343"/>
<path class="mk" d="M866.75 344.8L869.25 343"/>
<path class="mk" d="M883.35 344.8L885.85 343"/>
<path class="d" d="M899 343.9Q900.4 343.9 901.5 339.6M908.9 339.6Q909.8 343.9 910.9 343.9"/>
<path class="d" d="M910.9 343.9L920.1 343.9"/>
<path class="d" d="M927.9 343.9L936.4 343.9"/>
<path class="d" d="M944.2 343.9L953 343.9"/>
<path class="d" d="M960.8 343.9L970.7 343.9"/>
<path class="mk" d="M923.35 344.8L925.85 343"/>
<path class="mk" d="M939.65 344.8L942.15 343"/>
<path class="mk" d="M956.25 344.8L958.75 343"/>
<path class="m" d="M326.4 332.7L616.4 332.7L616.4 366.9L661.8 366.9"/>
<path fill="#262626" d="M478.6 332.7L487.2 333.85L487.2 331.55Z"/>
<path fill="#262626" d="M628.7 366.9L638.5 368.1L638.5 365.7Z"/>
<text x="0" y="0" font-size="11.54" text-anchor="start" fill="#2e2e2e" transform="translate(631.2 363.92) scale(0.649 1)">上清液</text>
<path class="m" d="M326.4 362L430 362"/>
<path fill="#262626" d="M361 362L369.6 363.15L369.6 360.85Z"/>
<text x="0" y="0" font-size="11.9" text-anchor="start" fill="#2e2e2e" transform="translate(396 359.2) scale(0.706 1)">压滤液</text>
<path class="d" d="M724.2 365.2L738 365.2"/>
<path class="d" d="M744.8 365.2L754.6 365.2"/>
<path class="d" d="M761.4 365.2L771.2 365.2"/>
<path class="d" d="M778 365.2L787.8 365.2"/>
<path class="d" d="M794.6 365.2L804.4 365.2"/>
<path class="d" d="M811.2 365.2L821 365.2"/>
<path class="d" d="M827.8 365.2L837.6 365.2"/>
<path class="d" d="M844.4 365.2L854.2 365.2"/>
<path class="d" d="M861 365.2L870.8 365.2"/>
<path class="d" d="M877.6 365.2L887.4 365.2"/>
<path class="d" d="M894.2 365.2L905.5 365.2"/>
<rect x="740.45" y="363.9" width="1.9" height="2.6" fill="#3a3a3a"/>
<rect x="757.05" y="363.9" width="1.9" height="2.6" fill="#3a3a3a"/>
<rect x="773.65" y="363.9" width="1.9" height="2.6" fill="#3a3a3a"/>
<rect x="790.25" y="363.9" width="1.9" height="2.6" fill="#3a3a3a"/>
<rect x="806.85" y="363.9" width="1.9" height="2.6" fill="#3a3a3a"/>
<rect x="823.45" y="363.9" width="1.9" height="2.6" fill="#3a3a3a"/>
<rect x="840.05" y="363.9" width="1.9" height="2.6" fill="#3a3a3a"/>
<rect x="856.65" y="363.9" width="1.9" height="2.6" fill="#3a3a3a"/>
<rect x="873.25" y="363.9" width="1.9" height="2.6" fill="#3a3a3a"/>
<rect x="889.85" y="363.9" width="1.9" height="2.6" fill="#3a3a3a"/>
<path class="m" d="M656.3 426L729 426L729 431.3L656.3 431.3Z"/>
<path class="p" d="M656.3 431.3L729 431.3"/>
<path class="e" d="M661.8 355L724.2 355L724.2 426L661.8 426Z"/>
<path class="m" d="M664.2 366.6L721 366.6"/>
<path d="M690.2 366.9H695Q694.6 369.6 692.6 369.6Q690.6 369.6 690.2 366.9Z" fill="#2e2e2e"/>
<path class="e" d="M661.8 400L678.4 426"/>
<path class="e" d="M724.2 400L704.4 426"/>
<path class="t" d="M685.5 426L685.5 447.1"/>
<path d="M685.5 432.6V438.1" stroke="#3a3a3a" stroke-width="2.6" stroke-dasharray="1.5 0.4"/>
<path class="t" d="M692.9 426L692.9 447.1"/>
<path d="M692.9 432.6V438.1" stroke="#3a3a3a" stroke-width="2.6" stroke-dasharray="1.5 0.4"/>
<path class="t" d="M700 426L700 447.1"/>
<path d="M700 432.6V438.1" stroke="#3a3a3a" stroke-width="2.6" stroke-dasharray="1.5 0.4"/>
<path class="d" d="M616 447.1L619.4 447.1"/>
<path class="d" d="M626.6 447.1L636.1 447.1"/>
<path class="d" d="M643.3 447.1L653.4 447.1"/>
<path class="d" d="M660.6 447.1L670.1 447.1"/>
<path class="d" d="M677.3 447.1L686.6 447.1"/>
<path class="d" d="M693.8 447.1L700 447.1"/>
<rect x="622.05" y="445.8" width="1.9" height="2.6" fill="#3a3a3a"/>
<rect x="638.75" y="445.8" width="1.9" height="2.6" fill="#3a3a3a"/>
<rect x="656.05" y="445.8" width="1.9" height="2.6" fill="#3a3a3a"/>
<rect x="672.75" y="445.8" width="1.9" height="2.6" fill="#3a3a3a"/>
<rect x="689.25" y="445.8" width="1.9" height="2.6" fill="#3a3a3a"/>
<path fill="#262626" d="M661.6 450.3L668.1 451.4L668.1 449.2Z"/>
<path class="q" d="M667 450.3L676 450.3"/>
<text x="0" y="0" font-size="11.33" text-anchor="start" fill="#2e2e2e" transform="translate(679.4 469.96) scale(0.733 1)">污泥贮存池</text>
<path class="q" d="M601.4 400.3L623.5 400.3L623.5 407"/>
<path class="q" d="M616 447.1L616 407L629.8 407L629.8 447.1"/>
<path d="M616 410.5V418.4M616 437.4V442.9" stroke="#444" stroke-width="2.7" stroke-dasharray="1.3 0.45"/>
<circle cx="616" cy="422.9" r="1.5" fill="#444"/><circle cx="616" cy="435.6" r="1.5" fill="#444"/>
<circle cx="616" cy="430" r="2.6" fill="#fff" stroke="#333" stroke-width="1.1"/>
<path d="M629.8 410.5V418.4M629.8 437.4V442.9" stroke="#444" stroke-width="2.7" stroke-dasharray="1.3 0.45"/>
<circle cx="629.8" cy="422.9" r="1.5" fill="#444"/><circle cx="629.8" cy="435.6" r="1.5" fill="#444"/>
<circle cx="629.8" cy="430" r="2.6" fill="#fff" stroke="#333" stroke-width="1.1"/>
<path class="d" d="M601.4 400.3L601.4 410.5"/>
<path class="d" d="M601.4 418.1L601.4 427"/>
<path class="d" d="M601.4 434.6L601.4 443.6"/>
<path class="d" d="M601.4 451.2L601.4 458.7"/>
<rect x="600.1" y="413.35" width="2.6" height="1.9" fill="#3a3a3a"/>
<rect x="600.1" y="429.85" width="2.6" height="1.9" fill="#3a3a3a"/>
<rect x="600.1" y="446.45" width="2.6" height="1.9" fill="#3a3a3a"/>
<path fill="#262626" d="M604.8 430.4L605.9 426.4L603.7 426.4Z"/>
<path class="q" d="M604.8 423.8L604.8 427"/>
<path class="d" d="M436.4 458.7L446.7 458.7"/>
<path class="d" d="M454.3 458.7L463.3 458.7"/>
<path class="d" d="M470.9 458.7L480 458.7"/>
<path class="d" d="M487.6 458.7L496.7 458.7"/>
<path class="d" d="M504.3 458.7L513.3 458.7"/>
<path class="d" d="M520.9 458.7L530 458.7"/>
<path class="d" d="M537.6 458.7L546.7 458.7"/>
<path class="d" d="M554.3 458.7L563.3 458.7"/>
<path class="d" d="M570.9 458.7L580 458.7"/>
<path class="d" d="M587.6 458.7L601.4 458.7"/>
<rect x="449.55" y="457.4" width="1.9" height="2.6" fill="#3a3a3a"/>
<rect x="466.15" y="457.4" width="1.9" height="2.6" fill="#3a3a3a"/>
<rect x="482.85" y="457.4" width="1.9" height="2.6" fill="#3a3a3a"/>
<rect x="499.55" y="457.4" width="1.9" height="2.6" fill="#3a3a3a"/>
<rect x="516.15" y="457.4" width="1.9" height="2.6" fill="#3a3a3a"/>
<rect x="532.85" y="457.4" width="1.9" height="2.6" fill="#3a3a3a"/>
<rect x="549.55" y="457.4" width="1.9" height="2.6" fill="#3a3a3a"/>
<rect x="566.15" y="457.4" width="1.9" height="2.6" fill="#3a3a3a"/>
<rect x="582.85" y="457.4" width="1.9" height="2.6" fill="#3a3a3a"/>
<path class="d" d="M436.4 382L436.4 389.3"/>
<path class="d" d="M436.4 396.9L436.4 405.9"/>
<path class="d" d="M436.4 413.5L436.4 422.6"/>
<path class="d" d="M436.4 430.2L436.4 439.3"/>
<path class="d" d="M436.4 446.9L436.4 458.7"/>
<rect x="435.1" y="392.15" width="2.6" height="1.9" fill="#3a3a3a"/>
<rect x="435.1" y="408.75" width="2.6" height="1.9" fill="#3a3a3a"/>
<rect x="435.1" y="425.45" width="2.6" height="1.9" fill="#3a3a3a"/>
<rect x="435.1" y="442.15" width="2.6" height="1.9" fill="#3a3a3a"/>
<path fill="#262626" d="M484.2 455.2L490.2 456.3L490.2 454.1Z"/>
<path class="q" d="M489 455.2L498.2 455.2"/>
<path class="m" d="M425.6 431.5L545 431.5"/>
<rect x="429.6" y="362.5" width="2.4" height="65.5" fill="#b8b8b8" stroke="#444" stroke-width="0.9"/>
<rect x="505.8" y="362.5" width="2.4" height="65.5" fill="#b8b8b8" stroke="#444" stroke-width="0.9"/>
<rect x="428.7" y="427.4" width="5.1" height="4.2" fill="#161616"/>
<rect x="504.4" y="427.4" width="5.1" height="4.2" fill="#161616"/>
<path class="p" d="M432 383L437.2 377"/>
<path class="p" d="M505.8 383L500.4 377.4"/>
<path class="q" d="M429.6 362.5L441.4 362.5"/>
<path class="q" d="M492.6 362.5L507.2 362.5"/>
<path class="q" d="M429.6 367.5L441.4 367.5"/>
<path class="q" d="M492.6 367.5L507.2 367.5"/>
<path class="p" d="M429.6 371.6L508.2 371.6"/>
<path class="p" d="M429.6 376.3L508.2 376.3"/>
<path class="q" d="M436.8 362.5L436.8 371.6"/>
<path class="q" d="M438.1 362.5L438.1 371.6"/>
<path class="p" d="M507.3 362.5L507.3 376.3"/>
<rect x="442.4" y="370.4" width="2.3" height="5.2" fill="#3a3a3a"/>
<rect x="496.2" y="366.1" width="1.9" height="9.5" fill="#3a3a3a"/>
<rect x="441.4" y="357.3" width="51.2" height="11.8" fill="#d6d6d6"/>
<path d="M442.6 358V368.6M445.05 358V368.6M447.5 358V368.6M449.95 358V368.6M452.4 358V368.6M454.85 358V368.6M457.3 358V368.6M459.75 358V368.6M462.2 358V368.6M464.65 358V368.6M467.1 358V368.6M469.55 358V368.6M472 358V368.6M474.45 358V368.6M476.9 358V368.6M479.35 358V368.6M481.8 358V368.6M484.25 358V368.6M486.7 358V368.6M489.15 358V368.6M491.6 358V368.6" stroke="#fff" stroke-width="0.9" fill="none"/>
<path d="M443.85 357.3V369.1M446.3 357.3V369.1M448.75 357.3V369.1M451.2 357.3V369.1M453.65 357.3V369.1M456.1 357.3V369.1M458.55 357.3V369.1M461 357.3V369.1M463.45 357.3V369.1M465.9 357.3V369.1M468.35 357.3V369.1M470.8 357.3V369.1M473.25 357.3V369.1M475.7 357.3V369.1M478.15 357.3V369.1M480.6 357.3V369.1M483.05 357.3V369.1M485.5 357.3V369.1M487.95 357.3V369.1M490.4 357.3V369.1" stroke="#555" stroke-width="0.7" fill="none"/>
<path d="M447 357.3V369.1M452.9 357.3V369.1M458.5 357.3V369.1M464.3 357.3V369.1M470.4 357.3V369.1M474.7 357.3V369.1M480 357.3V369.1M485.6 357.3V369.1" stroke="#2e2e2e" stroke-width="1" fill="none"/>
<path class="p" d="M441.4 357.3L492.6 357.3L492.6 369.1L441.4 369.1Z"/>
<path class="p" d="M441.4 362.5L492.6 362.5"/>
<path class="p" d="M438.1 358.9L441.4 358.9L441.4 367.5L438.1 367.5Z"/>
<path class="p" d="M494.5 360.5L500.4 360.5L500.4 366.1L494.5 366.1Z"/>
<path class="m" d="M444.4 376.3L444.4 383.4L458.1 403.3L469.9 403.3L483.8 383.4L483.8 376.3"/>
<path class="m" d="M458.1 403.3L469.9 403.3L469.9 409.4L458.1 409.4Z"/>
<path d="M452.3 431.5Q456 430.5 458.5 426Q461.5 420.3 464.4 420Q467.5 420.6 471 424Q474.5 428.5 478.4 431.5Z" fill="#141414"/>
<path class="p" d="M507.3 362.5L528.4 383.4"/>
<path class="p" d="M507.3 367.3L528.4 388.2"/>
<path class="p" d="M507.3 371.9L528.4 392.8"/>
<path class="p" d="M512.7 367.8L512.7 377.5"/>
<path class="p" d="M519.6 374.7L519.6 384.8"/>
<path class="p" d="M509.6 376.6L509.6 379L512.6 379"/>
<path class="p" d="M512.9 379.9L512.9 382.3L515.9 382.3"/>
<path class="p" d="M516.2 383.2L516.2 385.6L519.2 385.6"/>
<path class="p" d="M519.5 386.5L519.5 388.9L522.5 388.9"/>
<path class="p" d="M522.8 389.8L522.8 392.2L525.8 392.2"/>
<path class="p" d="M526.1 393.1L526.1 395.5L529.1 395.5"/>
<path class="p" d="M528.3 383.1L540.7 383.1L540.7 431.5L528.3 431.5Z"/>
<path class="q" d="M528.3 387.4L540.7 387.4"/>
<path class="q" d="M528.3 391.8L540.7 391.8"/>
<path class="q" d="M528.3 396.2L540.7 396.2"/>
<path class="q" d="M528.3 399.7L540.7 399.7"/>
<path class="q" d="M528.3 403.1L540.7 403.1"/>
<path class="q" d="M528.3 406.6L540.7 406.6"/>
<path class="q" d="M528.3 410L540.7 410"/>
<path class="q" d="M528.3 413.5L540.7 413.5"/>
<path class="q" d="M528.3 416.9L540.7 416.9"/>
<path class="q" d="M528.3 420.4L540.7 420.4"/>
<path class="q" d="M528.3 423.8L540.7 423.8"/>
<path class="q" d="M528.3 427.3L540.7 427.3"/>
<text x="0" y="0" font-size="11.09" text-anchor="start" fill="#2e2e2e" transform="translate(449.8 471.37) scale(0.745 1)">污泥脱水机房</text>
<text x="0" y="0" font-size="7.39" font-weight="bold" text-anchor="start" fill="#161616" transform="translate(534.3 510.41) scale(0.656 1)">污水站工艺流程图</text>
<rect x="522.75" y="513.7" width="76.25" height="2.3" fill="#111"/>
<rect x="522.75" y="517.6" width="76.25" height="1" fill="#8a8a8a"/>
<clipPath id="fc"><rect x="55.8" y="585" width="200" height="23"/></clipPath>
<g clip-path="url(#fc)">
<text x="0" y="0" font-size="18.79" text-anchor="start" fill="#3a3a3a" transform="translate(48.3 605.94) scale(0.617 1)">站总装机功率</text>
</g>
<text transform="translate(121.1 606.3) scale(0.74 1)" x="0.00 11.42 24.59 37.23 48.58" y="0" font-size="20.4" fill="#585858">100kw</text>
</svg>
</body></html>
